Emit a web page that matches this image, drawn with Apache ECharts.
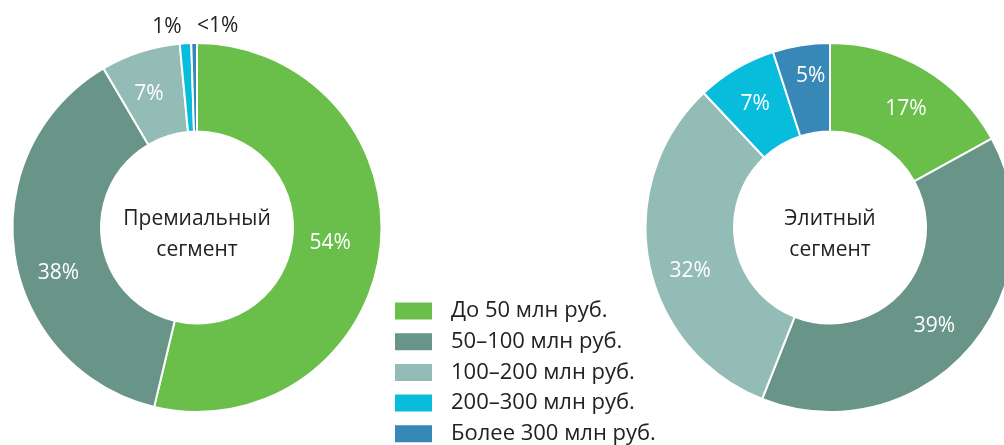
<!DOCTYPE html>
<html>
<head>
<meta charset="utf-8">
<script src="https://cdn.jsdelivr.net/npm/echarts@6/dist/echarts.min.js"></script>
<style>
html,body{margin:0;padding:0;background:#fff;}
#c{width:1004px;height:445px;}
</style>
</head>
<body>
<div id="c"></div>
<script>
const categories = ['До 50 млн руб.', '50–100 млн руб.', '100–200 млн руб.', '200–300 млн руб.', 'Более 300 млн руб.'];
const premiumValues = [54, 38, 7, 1, 0.5];
const eliteValues = [17, 39, 32, 7, 5];
const centerLabels = ['Премиальный\nсегмент', 'Элитный\nсегмент'];
const colors = ['#6abf4b', '#699589', '#94bcb6', '#08bddc', '#3787b7'];

const FONT = '"Open Sans", "Noto Sans", sans-serif';
const R = [96, 184.5];
const leftCenter = [197, 227.5];
const rightCenter = [830, 227.5];

// label nudges (layout only), per series / data index
const labelNudge = [
  [[-9, -1], [3, 24], [-4, 3], [-21, -58], [23, -58]],
  [[3, 5], [-3, 4], [1, 17], [-2, 0], [3, -10]]
];
const outsideIdx = [[3, 4], []];

function pct(v) { return v < 1 ? '<1%' : v + '%'; }

function makeData(values, s) {
  return values.map((v, i) => {
    const d = { name: categories[i], value: v };
    if (outsideIdx[s].indexOf(i) >= 0) {
      d.label = { color: '#222' };
    }
    return d;
  });
}

function pieSeries(values, center, s) {
  return {
    type: 'pie',
    center: center,
    radius: R,
    startAngle: 90,
    clockwise: true,
    avoidLabelOverlap: false,
    silent: true,
    itemStyle: { borderColor: '#fff', borderWidth: 2 },
    label: {
      show: true,
      position: 'inside',
      color: '#fff',
      fontSize: 21,
      fontFamily: FONT,
      formatter: p => pct(p.value)
    },
    labelLine: { show: false },
    labelLayout: p => {
      const n = labelNudge[s][p.dataIndex];
      return { dx: n[0], dy: n[1] };
    },
    data: makeData(values, s)
  };
}

const chart = echarts.init(document.getElementById('c'), null, { renderer: 'canvas' });
chart.setOption({
  animation: false,
  color: colors,
  textStyle: { fontFamily: FONT },
  legend: {
    orient: 'vertical',
    left: 393,
    top: 300,
    padding: 0,
    height: 160,
    itemWidth: 39,
    itemHeight: 19,
    itemGap: 8.7,
    icon: 'rect',
    selectedMode: false,
    data: categories,
    textStyle: { fontSize: 22, lineHeight: 19, height: 19, color: '#222', fontFamily: FONT, padding: [0, 0, 0, 13] }
  },
  graphic: [
    {
      type: 'text', x: leftCenter[0], y: leftCenter[1] + 7,
      style: { text: centerLabels[0], fill: '#222', font: '21px ' + FONT, align: 'center', verticalAlign: 'middle', lineHeight: 31 }
    },
    {
      type: 'text', x: rightCenter[0], y: rightCenter[1] + 7,
      style: { text: centerLabels[1], fill: '#222', font: '21px ' + FONT, align: 'center', verticalAlign: 'middle', lineHeight: 31 }
    }
  ],
  series: [
    pieSeries(premiumValues, leftCenter, 0),
    pieSeries(eliteValues, rightCenter, 1)
  ]
});
</script>
</body>
</html>
